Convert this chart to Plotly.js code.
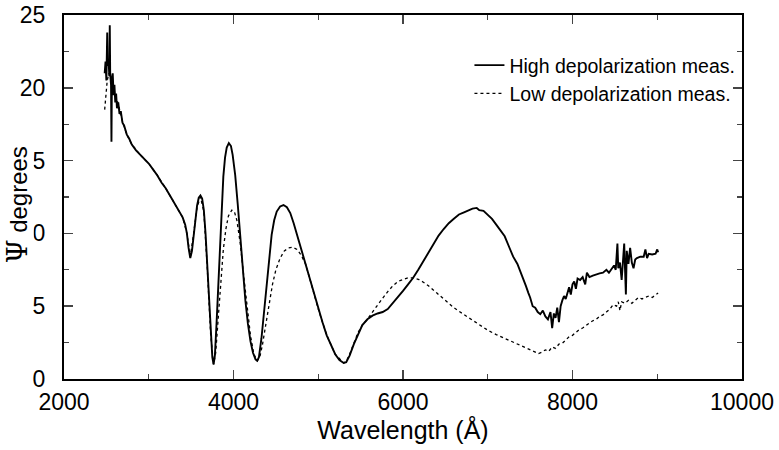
<!DOCTYPE html>
<html>
<head>
<meta charset="utf-8">
<script src="https://cdn.plot.ly/plotly-3.0.1.min.js"></script>
<style>html,body{margin:0;padding:0;background:#fff;}#chart{width:779px;height:450px;}</style>
</head>
<body>
<div id="chart"></div>
<script>
// High depolarization measurement (solid)
const highWavelength = [2480,2490,2500,2510,2515,2525,2535,2540,2545,2555,2560,2565,2575,2585,2595,2605,2615,2625,2640,2655,2670,2690,2710,2740,2770,2800,2850,2900,2950,3000,3050,3100,3150,3200,3250,3300,3350,3400,3430,3450,3470,3490,3510,3530,3550,3570,3590,3610,3630,3650,3670,3690,3710,3730,3750,3765,3780,3800,3820,3840,3860,3880,3900,3920,3945,3970,3990,4020,4050,4080,4110,4140,4170,4200,4230,4260,4280,4300,4330,4360,4390,4420,4450,4480,4510,4550,4590,4630,4670,4710,4750,4800,4850,4900,4950,5000,5050,5100,5150,5200,5250,5300,5330,5370,5420,5470,5520,5580,5640,5700,5760,5820,5880,5940,6000,6060,6120,6180,6240,6300,6360,6420,6480,6540,6600,6660,6720,6780,6820,6870,6900,6950,7000,7050,7100,7150,7200,7250,7300,7350,7400,7450,7480,7500,7530,7560,7590,7620,7650,7680,7710,7740,7760,7780,7800,7820,7840,7860,7880,7900,7920,7940,7960,7980,8000,8020,8040,8060,8090,8120,8150,8170,8200,8240,8280,8320,8360,8400,8430,8460,8490,8510,8530,8540,8560,8580,8600,8610,8620,8630,8640,8660,8680,8700,8720,8740,8760,8800,8840,8860,8880,8900,8940,8980,9000,9010];
const highPsi = [21.0,21.8,20.5,23.8,21.5,22.0,20.8,24.3,21.0,20.2,16.3,20.5,21.0,19.5,20.2,19.0,19.6,18.6,19.0,18.2,18.4,17.6,17.4,16.8,16.5,16.1,15.7,15.4,15.1,14.8,14.4,14.0,13.5,13.1,12.6,12.1,11.6,11.1,10.6,10.0,9.0,8.3,8.8,10.0,11.0,11.9,12.45,12.6,12.4,11.6,10.0,7.8,5.5,3.2,1.5,1.0,1.6,3.8,6.5,9.3,11.9,13.9,15.2,15.9,16.2,16.0,15.4,14.0,12.0,9.8,7.5,5.4,3.8,2.6,1.8,1.35,1.25,1.5,2.8,4.6,6.6,8.4,9.9,10.9,11.5,11.85,11.95,11.8,11.4,10.7,9.9,8.9,7.9,6.9,5.8,4.8,3.9,3.0,2.3,1.7,1.3,1.1,1.15,1.6,2.4,3.1,3.7,4.1,4.35,4.5,4.6,4.8,5.2,5.6,6.05,6.5,6.95,7.5,8.1,8.7,9.3,9.85,10.3,10.7,11.0,11.3,11.45,11.6,11.7,11.75,11.6,11.55,11.3,11.0,10.6,10.2,9.8,9.1,8.4,7.9,7.2,6.4,5.9,5.6,5.0,4.9,4.6,4.45,4.7,4.3,4.1,4.6,3.5,4.5,4.2,4.9,3.9,5.0,5.4,5.7,5.5,6.0,6.3,5.8,6.5,6.7,6.2,6.9,6.8,7.0,6.5,7.3,7.0,7.1,7.2,7.25,7.3,7.5,7.3,7.6,7.8,7.5,9.3,7.6,8.0,6.8,8.5,9.3,7.5,5.8,8.8,7.9,9.0,8.0,7.6,8.2,8.3,8.4,8.4,8.9,8.3,8.6,8.55,8.6,8.9,8.7];

// Low depolarization measurement (dashed)
const lowWavelength = [2480,2495,2510,2530,2550,2575,2600,2640,2690,2740,2800,2900,3000,3100,3200,3300,3400,3450,3490,3530,3570,3610,3650,3690,3730,3765,3790,3820,3850,3880,3910,3940,3980,4010,4040,4080,4120,4160,4200,4240,4280,4310,4340,4380,4420,4460,4500,4550,4600,4650,4700,4750,4800,4850,4900,4950,5000,5100,5200,5300,5330,5370,5420,5470,5520,5580,5640,5700,5760,5820,5880,5940,6000,6060,6120,6180,6240,6300,6400,6500,6600,6700,6800,6900,7000,7100,7200,7300,7400,7500,7550,7600,7640,7680,7720,7760,7800,7840,7880,7920,7960,8000,8040,8080,8120,8160,8200,8240,8280,8320,8360,8400,8440,8480,8520,8540,8560,8580,8620,8660,8700,8740,8780,8820,8860,8900,8940,8980,9010];
const lowPsi = [18.5,19.3,20.5,21.0,20.6,20.3,19.6,18.9,17.7,16.8,16.1,15.4,14.8,14.0,13.1,12.1,11.1,10.0,8.4,10.0,11.8,12.5,11.5,7.7,3.1,1.0,1.8,4.2,6.8,8.9,10.3,11.2,11.6,11.5,10.9,9.3,7.1,4.9,3.0,1.7,1.25,1.5,2.3,3.7,5.2,6.5,7.5,8.3,8.8,9.0,9.05,8.9,8.5,7.9,6.9,5.8,4.8,3.0,1.7,1.1,1.2,1.7,2.5,3.2,3.7,4.1,4.6,5.1,5.55,6.0,6.4,6.7,6.85,6.95,6.95,6.85,6.65,6.4,5.9,5.4,4.9,4.5,4.1,3.7,3.35,3.05,2.8,2.5,2.25,2.05,1.9,1.75,1.85,2.0,1.9,2.2,2.1,2.4,2.45,2.7,2.9,3.0,3.2,3.4,3.5,3.7,3.85,4.0,4.1,4.3,4.4,4.6,4.8,5.1,5.0,5.3,4.7,5.3,5.2,5.4,5.2,5.4,5.6,5.5,5.6,5.7,5.6,5.8,5.9];

const seriesNames = ["High depolarization meas.", "Low depolarization meas."];
const xTitle = "Wavelength (Å)";
const yTitle = "Ψ degrees";

const FONT = '"Liberation Sans", Arial, Helvetica, sans-serif';

const traces = [
  {x: highWavelength, y: highPsi, name: seriesNames[0], type: 'scatter', mode: 'lines',
   line: {color: '#000', width: 1.9}},
  {x: lowWavelength, y: lowPsi, name: seriesNames[1], type: 'scatter', mode: 'lines',
   line: {color: '#000', width: 1.3, dash: '3px,3px'}}
];

const layout = {
  width: 779, height: 450,
  margin: {l: 64, r: 37, t: 15, b: 71},
  paper_bgcolor: '#fff', plot_bgcolor: '#fff',
  font: {family: FONT, color: '#000', size: 23},
  showlegend: true,
  legend: {x: 0.598, y: 0.915, xanchor: 'left', yanchor: 'top', bgcolor: 'rgba(0,0,0,0)',
           font: {family: FONT, size: 19.5, color: '#000'}, borderwidth: 0},
  xaxis: {range: [2000, 10000], dtick: 2000, tick0: 2000, tickformat: 'd', ticks: 'inside', ticklen: 9, tickwidth: 1.5,
          showline: true, linewidth: 2, linecolor: '#000', mirror: 'ticks', showgrid: false, zeroline: false,
          minor: {dtick: 1000, ticks: 'inside', ticklen: 5, tickwidth: 1.2, showgrid: false},
          tickfont: {family: FONT, size: 23}, ticklabelstandoff: 1,
          title: {text: xTitle, font: {family: FONT, size: 25}, standoff: 8}},
  yaxis: {range: [0, 25], dtick: 5, tick0: 0, tickformat: 'd', ticks: 'inside', ticklen: 9, tickwidth: 1.5,
          showline: true, linewidth: 2, linecolor: '#000', mirror: 'ticks', showgrid: false, zeroline: false,
          minor: {dtick: 2.5, ticks: 'inside', ticklen: 5, tickwidth: 1.2, showgrid: false},
          tickfont: {family: FONT, size: 23}, ticklabelstandoff: 12},
  annotations: [{
    text: '<span style="font-family:\'DejaVu Serif\',serif;font-size:27px">Ψ</span>' + yTitle.slice(1),
    xref: 'paper', yref: 'paper', x: -0.069, y: 0.478, xanchor: 'center', yanchor: 'middle',
    textangle: -90, showarrow: false, bgcolor: '#fff', borderpad: 0,
    font: {family: FONT, size: 24, color: '#000'}
  }]
};

Plotly.newPlot('chart', traces, layout, {displayModeBar: false, staticPlot: true});
</script>
</body>
</html>
